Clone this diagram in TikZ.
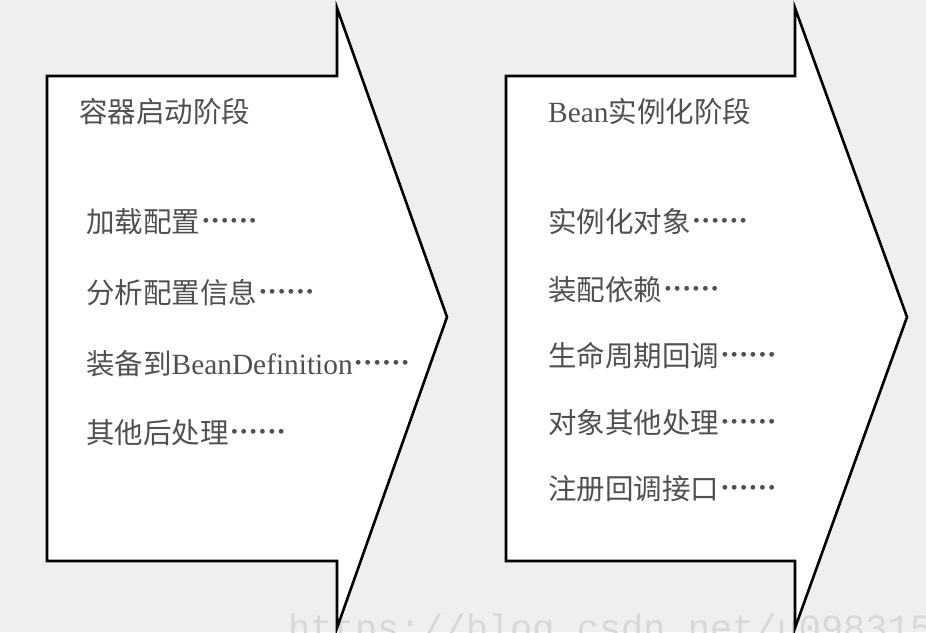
\documentclass[tikz,border=0pt]{standalone}
\usepackage{fontspec}
\setmainfont{Liberation Serif}[Scale=1.03]
\newfontfamily\cjkfont{Noto Sans CJK SC}
\newfontfamily\wmfont{Liberation Mono}
\newcommand{\zh}[1]{{\cjkfont #1}}
\newcommand{\onedot}{\makebox[9.4pt]{\raisebox{2.6pt}{\bfseries ·}}}
\newcommand{\sixdots}{\hspace{1pt}\onedot\onedot\onedot\onedot\onedot\onedot}
\definecolor{bgcol}{HTML}{EFEFEF}
\definecolor{txtcol}{HTML}{505050}
\definecolor{wmcol}{HTML}{D8D8D8}
\begin{document}
\begin{tikzpicture}[x=1pt,y=-1pt,
  bigarrow/.style={draw=black,line width=2.6pt,fill=white,line join=miter},
  label/.style={anchor=west,inner sep=0pt,text=txtcol,font=\fontsize{28.5}{31}\selectfont},
  wm/.style={anchor=base west,inner sep=0pt,text=wmcol,font=\wmfont\fontsize{37}{40}\selectfont}]
\useasboundingbox (0,0) rectangle (926,632);
\fill[bgcol] (0,0) rectangle (926,632);
\begin{scope}
\clip (0,0) rectangle (926,632);
\node[wm] (watermark) at (288,640) {https://blog.csdn.net/u098315};
\end{scope}
% left arrow
\draw[bigarrow] (47,76) -- (337,76) -- (337,8) -- (447,317) -- (337,628) -- (337,561) -- (47,561) -- cycle;
% right arrow
\draw[bigarrow] (506,76) -- (795,76) -- (795,8) -- (907,317) -- (795,628) -- (795,561) -- (506,561) -- cycle;
% left texts
\node[label] (t1) at (79,112) {\zh{容器启动阶段}};
\node[label] (l1) at (86,222) {\zh{加载配置}\sixdots};
\node[label] (l2) at (86,293) {\zh{分析配置信息}\sixdots};
\node[label] (l3) at (86,364) {\zh{装备到}BeanDefinition\sixdots};
\node[label] (l4) at (86,433) {\zh{其他后处理}\sixdots};
% right texts
\node[label] (t2) at (548,112) {Bean\zh{实例化阶段}};
\node[label] (r1) at (548,222) {\zh{实例化对象}\sixdots};
\node[label] (r2) at (548,290) {\zh{装配依赖}\sixdots};
\node[label] (r3) at (548,356) {\zh{生命周期回调}\sixdots};
\node[label] (r4) at (548,423) {\zh{对象其他处理}\sixdots};
\node[label] (r5) at (548,489) {\zh{注册回调接口}\sixdots};
\end{tikzpicture}
\end{document}
